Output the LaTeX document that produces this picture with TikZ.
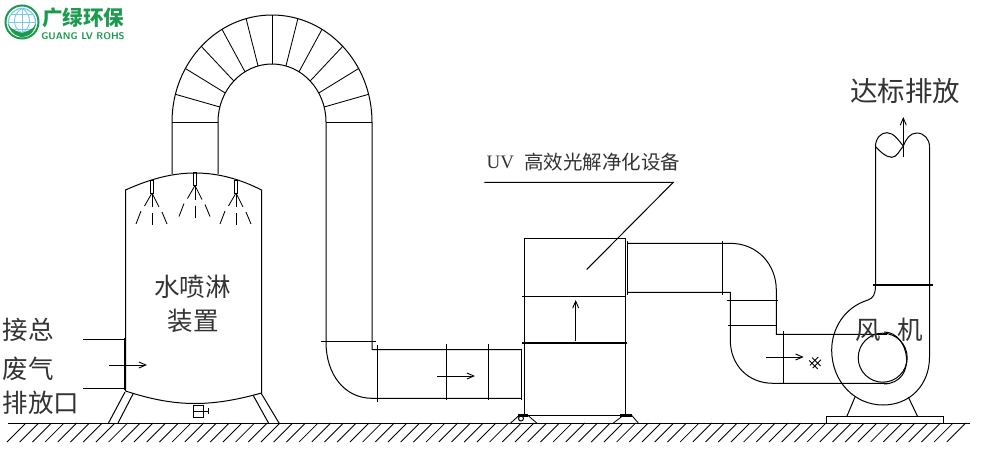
\documentclass[tikz,border=0pt]{standalone}
\usepackage{fontspec}
\newfontfamily\cjk{Noto Sans CJK SC}
\setmainfont{Liberation Serif}
\usepackage{tikz}
\usetikzlibrary{arrows.meta}
\tikzset{
  line/.style={line width=1pt},
  thickline/.style={line width=2.2pt},
  thinline/.style={line width=0.85pt},
  flow/.style={line width=0.9pt, -{Straight Barb[length=7pt,width=6pt]}},
  label/.style={text=black!80, inner sep=0pt, font=\cjk\fontsize{25.5}{25.5}\selectfont},
}
\definecolor{logogreen}{HTML}{1C9A4E}
\definecolor{logoblue}{HTML}{7CCBEF}
\begin{document}
\begin{tikzpicture}[x=1pt, y=-1pt]
\useasboundingbox (0,0) rectangle (985,455);
\fill[white] (0,0) rectangle (985,455);
\draw[logoblue, line width=0.9pt] (8.5,22) -- (35.5,22) (11,14) -- (33,14) (11,29) -- (33,29) (22,8.5) -- (22,33);
\draw[logoblue, line width=0.9pt] (22,8.5) .. controls (12,14) and (12,28) .. (22,33) (22,8.5) .. controls (32,14) and (32,28) .. (22,33);
\draw[logoblue, line width=1.2pt] (22,22) circle (13.5);
\draw[logogreen, line width=2pt] (22,22) circle (16.5);
\fill[logogreen] (8,24) .. controls (11,35) and (18,36) .. (21,37) -- (23,37) .. controls (28,36) and (33,35) .. (36,24) .. controls (33,30) and (27,31) .. (22,33) .. controls (17,31) and (11,30) .. (8,24) -- cycle;
\node[text=logogreen, inner sep=0pt, font=\cjk\bfseries\fontsize{20.5}{21}\selectfont] (logotext) at (83,18) {广绿环保};
\node[text=logogreen, inner sep=0pt, font=\sffamily\bfseries\fontsize{9.7}{10}\selectfont] (logosub) at (83,36.5) {GUANG LV ROHS};
\draw[line] (172,174) -- (172,122) arc[start angle=180, end angle=360, x radius=100, y radius=107] -- (372,349.5) -- (521.7,349.5);
\draw[line] (218,174) -- (218,122) arc[start angle=180, end angle=360, x radius=54, y radius=58] -- (326,342);
\draw[line] (172,122) -- (218,122) (326,122) -- (372,122);
\foreach \a in {15,30,...,165} {
\draw[thinline] ({272+100*cos(\a)},{122-107*sin(\a)}) -- ({272+54*cos(\a)},{122-58*sin(\a)});
}
\draw[line] (125.5,391) -- (125.5,190) .. controls (150,179) and (172,173) .. (195,173) .. controls (218,173) and (240,179) .. (261.5,190) -- (261.5,393);
\draw[line] (125.5,391) .. controls (150,399) and (172,403.5) .. (195,403.5) .. controls (218,403.5) and (240,399) .. (261.5,393);
\draw[thickline] (125,338) -- (125,390);
\draw[line] (83,339) -- (125,339) (83,388.5) -- (125,388.5);
\draw[flow] (109,365) -- (147,365);
\draw[line] (108.5,423) -- (125,392) (118,423) -- (133.5,393) (268.5,423) -- (253,395) (279,423) -- (261,393);
\draw[line] (193.3,405) rectangle (203,417) (193.3,411) -- (208,411) (208,408) -- (208,414);
\foreach \x/\y in {152/180, 195/172.5, 236/180} {
\draw[line] (\x-1.5,\y) rectangle (\x+1.5,\y+13);
\draw[thinline] (\x,\y+13) -- (\x-7.5,\y+26) (\x-11,\y+31) -- (\x-16,\y+44);
\draw[thinline] (\x,\y+13) -- (\x+7,\y+27) (\x+10,\y+32) -- (\x+15,\y+44);
\draw[thinline] (\x,\y+13) -- (\x,\y+27) (\x,\y+33) -- (\x,\y+45);
}
\draw[line] (8,423) -- (970,423);
\foreach \x in {0,1,...,74} {
\draw[thinline] ({26+12.7*\x},423) -- ({7+12.7*\x},442);
}
\draw[line] (321,341.5) -- (376,341.5);
\draw[line] (326,342) .. controls (326,375) and (345,398.3) .. (372,398.3) -- (521.7,398.3);
\foreach \x/\a/\b in {377.5/345/402, 446.5/344/400, 488.5/344/400, 521.5/349/400} {
\draw[line] (\x,\a) -- (\x,\b);
}
\draw[flow] (437,376) -- (475,376);
\draw[line] (524.3,238.3) rectangle (625.7,415.7);
\draw[line] (522,296) -- (626,296);
\draw[thickline] (522,343) -- (627,343);
\draw[flow] (575.7,341) -- (575.7,300);
\draw[thinline] (510.7,423) -- (518.7,415.7) (528.3,415.7) -- (536.7,423) (613.3,423) -- (623,415.7) (632,415.7) -- (638.3,423);
\draw[thickline] (518,415.5) -- (528,415.5) (620,415.5) -- (632,415.5);
\draw[line] (521,418.5) circle (2.5);
\draw[line] (484.3,182.3) -- (673.3,182.3) -- (586.7,269.5);
\node[label, anchor=west, font=\fontsize{19}{19}\selectfont] (uvtext) at (486.5,162) {UV};
\node[label, anchor=west, font=\cjk\fontsize{19.5}{20}\selectfont] (uvlabel) at (524,162) {高效光解净化设备};
\draw[line] (627.5,241) -- (627.5,295);
\draw[line] (722.3,241) -- (722.3,295);
\draw[line] (628,243.3) -- (730,243.3) .. controls (758,243.3) and (776.3,265) .. (776.3,290) -- (776.3,334.3) -- (887,334.3);
\draw[line] (628,292.3) -- (730.3,292.3) -- (730.3,340) .. controls (730.3,365) and (748,383.3) .. (773,383.3) -- (887,383.3);
\draw[line] (726.7,300.3) -- (778,300.3) (728,325.3) -- (777,325.3);
\draw[line] (783.3,331) -- (783.3,384);
\draw[flow] (766,357) -- (803.7,357);
\begin{scope}[shift={(815.5,362.5)}, rotate=45]
\draw[thinline] (-6,-2) -- (6,-2) (-6,2) -- (6,2) (-3,-6) -- (-3,6) (1,-6) -- (1,6);
\end{scope}
\draw[line] (882.7,357.7) circle (24.5);
\draw[line] (884,332) .. controls (910,332) and (918,383) .. (884,384);
\draw[line] (875.5,146.7) -- (875.5,285) .. controls (875.5,295) and (873,298) .. (868,300) .. controls (845,307) and (831.7,328) .. (831.7,350) .. controls (831.7,382) and (855,405) .. (883,405) .. controls (910,405) and (929.5,385) .. (929.5,357) -- (929.5,146.7);
\draw[thickline] (873,285) -- (933,285);
\draw[line] (875.5,146.7) .. controls (875.5,138) and (881,132.7) .. (887,132.7) .. controls (894,132.7) and (899,141) .. (903.3,146) .. controls (899,151) and (897,157.3) .. (891.7,157.3) .. controls (885,157.3) and (879,150) .. (875.5,146.7);
\draw[line] (903.3,146) .. controls (906,139) and (910,133) .. (916.7,133) .. controls (924,133) and (929.5,139) .. (929.5,146.7);
\draw[flow] (903.3,157) -- (903.3,117);
\draw[line] (826.7,416.7) rectangle (943.3,423);
\draw[line] (846.7,416.7) -- (855,397) (917.7,416.7) -- (908.3,397);
\node[label] (sprayup) at (192.5,287) {水喷淋};
\node[label] (spraylow) at (193,321) {装置};
\node[label] (inlet) at (28,330) {接总};
\node[label] (inletmid) at (28,369) {废气};
\node[label] (inletlow) at (41,403) {排放口};
\node[label] (fan) at (889,330) {风\hspace{17pt}机};
\node[label, font=\cjk\fontsize{27.5}{27.5}\selectfont] (outlet) at (905,91) {达标排放};
\end{tikzpicture}
\end{document}
